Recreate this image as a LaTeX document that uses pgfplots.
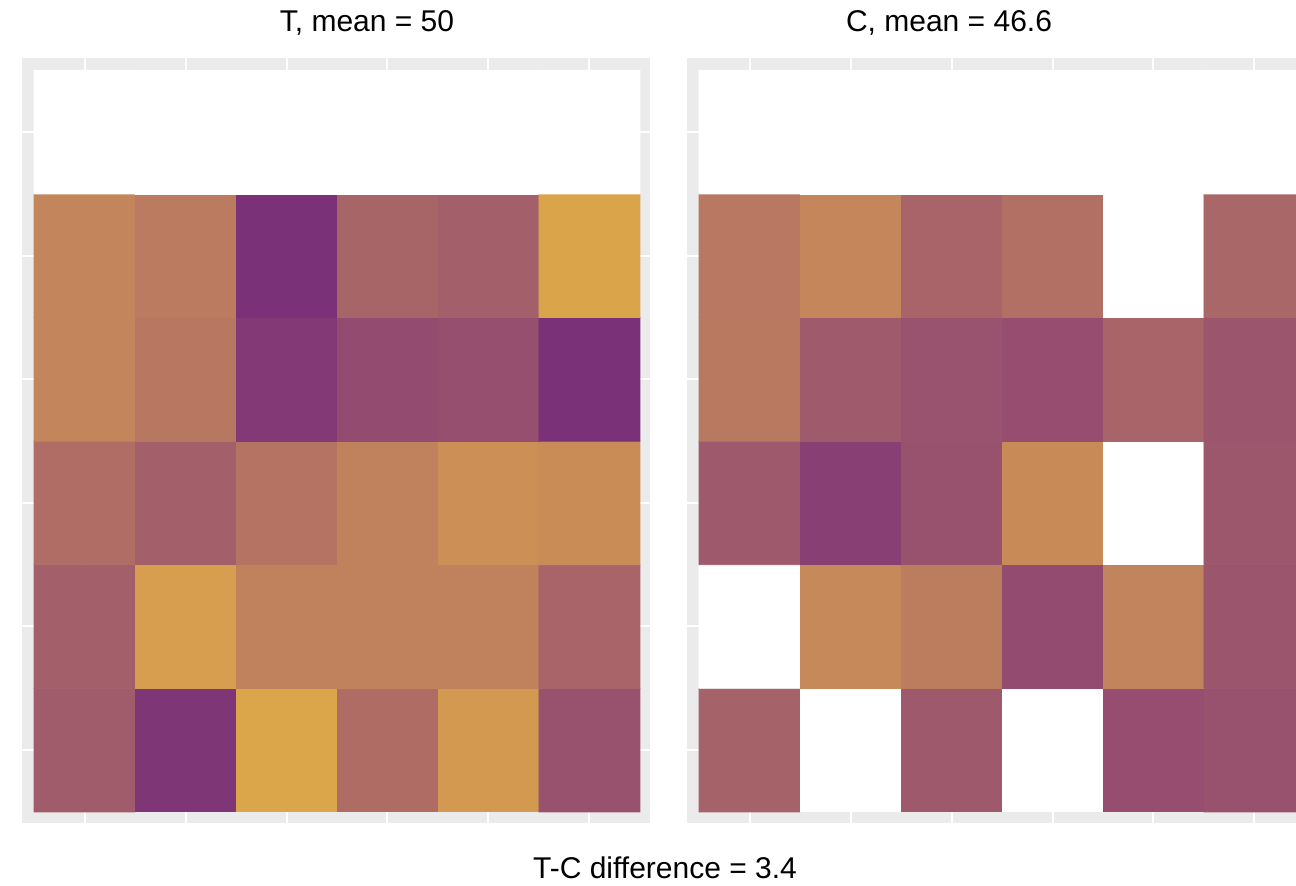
\documentclass[border=0pt]{standalone}
\usepackage{pgfplots}
\pgfplotsset{compat=1.18}
\usepackage{fontspec}
\setmainfont{Liberation Sans}
\definecolor{panelgrey}{HTML}{EBEBEB}
\pgfplotsset{
  colormap={tc}{rgb255(0cm)=(255,255,255) rgb255(1cm)=(255,255,255)
    rgb255(2cm)=(122,49,119) rgb255(4.5cm)=(148,75,112) rgb255(6cm)=(161,93,107)
    rgb255(7.5cm)=(175,108,101) rgb255(9cm)=(190,128,94) rgb255(10.5cm)=(204,143,85)
    rgb255(12cm)=(219,165,74)},
  panel/.style={scale only axis, width=314pt, height=382.5pt,
    xmin=0.38, xmax=6.6, ymin=0.41, ymax=6.6,
    axis background/.style={fill=panelgrey},
    axis line style={draw=none},
    xtick={1,...,6}, ytick={1,...,6},
    xticklabel=\empty, yticklabel=\empty,
    major tick length=0pt,
    grid=major, major grid style={white, line width=1pt},
    colormap name=tc, point meta min=-20, point meta max=100,
    anchor=south west}
}
% NA cells are coded as -20 (drawn white)
\pgfplotstableread{
x y v
1 1 39
2 1 5
3 1 100
4 1 55
5 1 92
6 1 31
1 2 42
2 2 95
3 2 72
4 2 72
5 2 72
6 2 47
1 3 56
2 3 42
3 3 60
4 3 72
5 3 85
6 3 82
1 4 75
2 4 63
3 4 8
4 4 25
5 4 28
6 4 0
1 5 75
2 5 66
3 5 0
4 5 48
5 5 43
6 5 99
1 6 -20
2 6 -20
3 6 -20
4 6 -20
5 6 -20
6 6 -20
}\tabT
\pgfplotstableread{
x y v
1 1 45
2 1 -20
3 1 37
4 1 -20
5 1 27
6 1 31
1 2 -20
2 2 79
3 2 68
4 2 25
5 2 74
6 2 33
1 3 37
2 3 13
3 3 31
4 3 81
5 3 -20
6 3 35
1 4 65
2 4 38
3 4 32
4 4 27
5 4 47
6 4 33
1 5 64
2 5 76
3 5 47
4 5 58
5 5 -20
6 5 50
1 6 -20
2 6 -20
3 6 -20
4 6 -20
5 6 -20
6 6 -20
}\tabC
\begin{document}
\begin{tikzpicture}
\begin{axis}[panel, at={(11pt,31pt)}]
\addplot[matrix plot*, mesh/cols=6, point meta=explicit] table[x=x, y=y, meta=v] {\tabT};
\end{axis}
\begin{axis}[panel, at={(343.5pt,31pt)}]
\addplot[matrix plot*, mesh/cols=6, point meta=explicit] table[x=x, y=y, meta=v] {\tabC};
\end{axis}
\node[font=\fontsize{15}{18}\selectfont] at (183.5pt,431pt) {T, mean = 50};
\node[font=\fontsize{15}{18}\selectfont] at (474.5pt,431pt) {C, mean = 46.6};
\node[font=\fontsize{15}{18}\selectfont] at (332.5pt,8.5pt) {T-C difference = 3.4};
\pgfresetboundingbox
\path[use as bounding box] (0pt,0pt) rectangle (648pt,442.5pt);
\end{tikzpicture}
\end{document}
